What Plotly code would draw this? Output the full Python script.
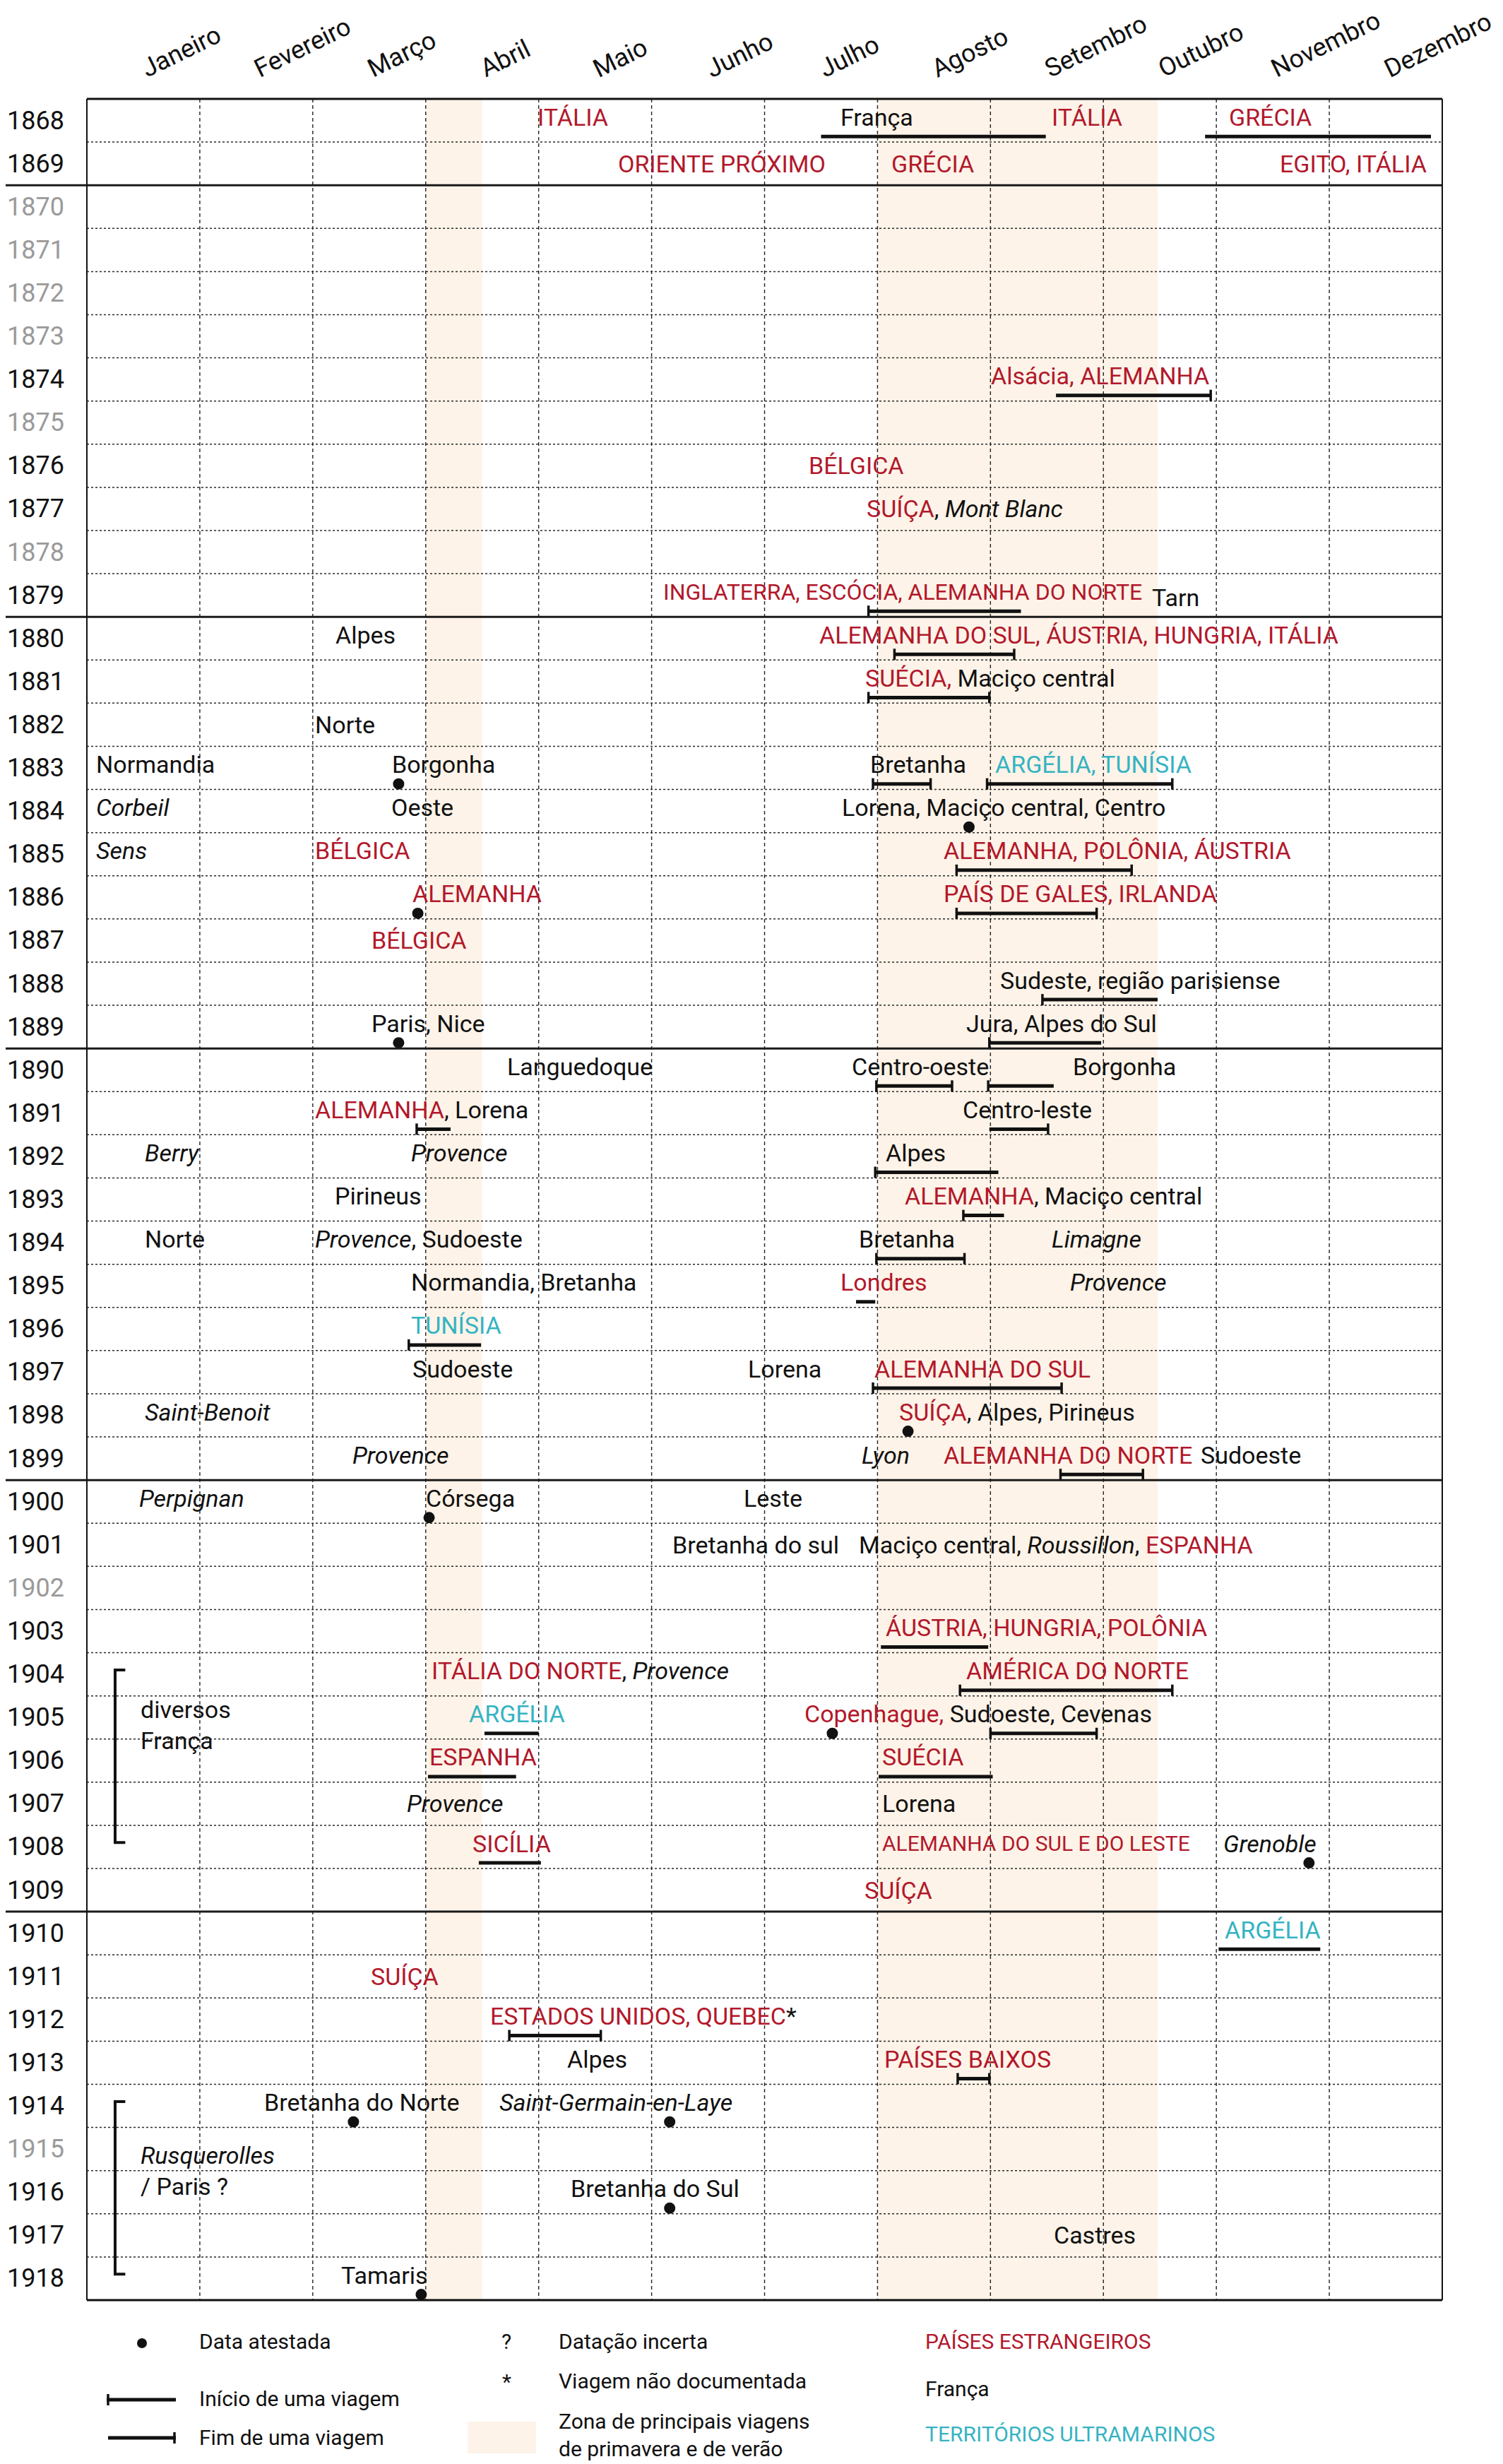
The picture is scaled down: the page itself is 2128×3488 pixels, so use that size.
import re
import plotly.graph_objects as go

# ---------------- data ----------------
years = list(range(1868, 1919))
grey_years = [1870, 1871, 1872, 1873, 1875, 1878, 1902, 1915]
decade_breaks = [1869, 1879, 1889, 1899, 1909]
months = ["Janeiro", "Fevereiro", "Março", "Abril", "Maio", "Junho", "Julho",
          "Agosto", "Setembro", "Outubro", "Novembro", "Dezembro"]

# spring/summer travel zones (in months from 1 January)
band_start = [3.0, 7.0]
band_end = [3.5, 9.48]

# labels: year, position (months from 1 January), text
# {E:..} foreign country, {T:..} overseas territory, {i:..} italic
label_year = [1868, 1868, 1868, 1868,
              1869, 1869, 1869,
              1874, 1876, 1877,
              1879, 1879,
              1880, 1880, 1881, 1882,
              1883, 1883, 1883, 1883,
              1884, 1884, 1884,
              1885, 1885, 1885,
              1886, 1886, 1887, 1888,
              1889, 1889,
              1890, 1890, 1890,
              1891, 1891,
              1892, 1892, 1892,
              1893, 1893,
              1894, 1894, 1894, 1894,
              1895, 1895, 1895,
              1896,
              1897, 1897, 1897,
              1898, 1898,
              1899, 1899, 1899, 1899,
              1900, 1900, 1900,
              1901, 1901,
              1903,
              1904, 1904,
              1905, 1905,
              1906, 1906,
              1907, 1907,
              1908, 1908, 1908,
              1909, 1910, 1911, 1912,
              1913, 1913,
              1914, 1914,
              1916, 1917, 1918]
label_month = [3.98, 6.66, 8.53, 10.10,
               4.69, 7.11, 10.55,
               7.99, 6.38, 6.89,
               5.09, 9.42,
               2.19, 6.47, 6.88, 2.01,
               0.07, 2.69, 6.92, 8.03,
               0.07, 2.68, 6.67,
               0.07, 2.01, 7.57,
               2.87, 7.57, 2.51, 8.07,
               2.51, 7.77,
               3.71, 6.76, 8.72,
               2.01, 7.74,
               0.50, 2.86, 7.06,
               2.18, 7.23,
               0.50, 2.01, 6.82, 8.53,
               2.86, 6.66, 8.69,
               2.86,
               2.87, 5.84, 6.96,
               0.50, 7.18,
               2.34, 6.85, 7.57, 9.85,
               0.45, 2.99, 5.80,
               5.17, 6.82,
               7.06,
               3.04, 7.77,
               3.37, 6.34,
               3.02, 7.03,
               2.82, 7.03,
               3.40, 7.03, 10.05,
               6.87, 10.06, 2.50, 3.56,
               4.24, 7.05,
               1.56, 3.64,
               4.27, 8.55, 2.24]
label_text = ["{E:ITÁLIA}", "França", "{E:ITÁLIA}", "{E:GRÉCIA}",
              "{E:ORIENTE PRÓXIMO}", "{E:GRÉCIA}", "{E:EGITO, ITÁLIA}",
              "{E:Alsácia, ALEMANHA}", "{E:BÉLGICA}", "{E:SUÍÇA}, {i:Mont Blanc}",
              "{E:INGLATERRA, ESCÓCIA, ALEMANHA DO NORTE}", "Tarn",
              "Alpes", "{E:ALEMANHA DO SUL, ÁUSTRIA, HUNGRIA, ITÁLIA}",
              "{E:SUÉCIA,} Maciço central", "Norte",
              "Normandia", "Borgonha", "Bretanha", "{T:ARGÉLIA, TUNÍSIA}",
              "{i:Corbeil}", "Oeste", "Lorena, Maciço central, Centro",
              "{i:Sens}", "{E:BÉLGICA}", "{E:ALEMANHA, POLÔNIA, ÁUSTRIA}",
              "{E:ALEMANHA}", "{E:PAÍS DE GALES, IRLANDA}", "{E:BÉLGICA}",
              "Sudeste, região parisiense",
              "Paris, Nice", "Jura, Alpes do Sul",
              "Languedoque", "Centro-oeste", "Borgonha",
              "{E:ALEMANHA}, Lorena", "Centro-leste",
              "{i:Berry}", "{i:Provence}", "Alpes",
              "Pirineus", "{E:ALEMANHA}, Maciço central",
              "Norte", "{i:Provence}, Sudoeste", "Bretanha", "{i:Limagne}",
              "Normandia, Bretanha", "{E:Londres}", "{i:Provence}",
              "{T:TUNÍSIA}",
              "Sudoeste", "Lorena", "{E:ALEMANHA DO SUL}",
              "{i:Saint-Benoit}", "{E:SUÍÇA}, Alpes, Pirineus",
              "{i:Provence}", "{i:Lyon}", "{E:ALEMANHA DO NORTE}", "Sudoeste",
              "{i:Perpignan}", "Córsega", "Leste",
              "Bretanha do sul", "Maciço central, {i:Roussillon}, {E:ESPANHA}",
              "{E:ÁUSTRIA, HUNGRIA, POLÔNIA}",
              "{E:ITÁLIA DO NORTE}, {i:Provence}", "{E:AMÉRICA DO NORTE}",
              "{T:ARGÉLIA}", "{E:Copenhague,} Sudoeste, Cevenas",
              "{E:ESPANHA}", "{E:SUÉCIA}",
              "{i:Provence}", "Lorena",
              "{E:SICÍLIA}", "{E:ALEMANHA DO SUL E DO LESTE}", "{i:Grenoble}",
              "{E:SUÍÇA}", "{T:ARGÉLIA}", "{E:SUÍÇA}", "{E:ESTADOS UNIDOS, QUEBEC}*",
              "Alpes", "{E:PAÍSES BAIXOS}",
              "Bretanha do Norte", "{i:Saint-Germain-en-Laye}",
              "Bretanha do Sul", "Castres", "Tamaris"]
# labels printed narrower in the original
narrow_labels = {"{E:ALEMANHA DO SUL E DO LESTE}": 30,
                 "{E:INGLATERRA, ESCÓCIA, ALEMANHA DO NORTE}": 32}
# labels sitting a little lower in their row
low_labels = ["Tarn"]

# journeys: year, start, end (months), marks: s = start of trip, e = end of trip
trip_year = [1868, 1868, 1874, 1879, 1880, 1881, 1883, 1883, 1885, 1886, 1888,
             1889, 1890, 1890, 1891, 1891, 1892, 1893, 1894, 1895, 1896, 1897,
             1899, 1903, 1904, 1905, 1905, 1906, 1906, 1908, 1910, 1912, 1913]
trip_start = [6.50, 9.90, 8.58, 6.92, 7.15, 6.92, 6.96, 7.97, 7.70, 7.70, 8.46,
              7.99, 6.99, 7.98, 2.92, 7.99, 6.98, 7.76, 6.99, 6.81, 2.85, 6.96,
              8.62, 7.03, 7.73, 3.52, 8.00, 3.02, 7.01, 3.47, 10.02, 3.74, 7.71]
trip_end = [8.49, 11.90, 9.95, 8.27, 8.21, 7.99, 7.47, 9.61, 9.25, 8.94, 9.48,
            8.98, 7.66, 8.56, 3.22, 8.51, 8.07, 8.12, 7.77, 6.98, 3.49, 8.63,
            9.35, 7.98, 9.61, 4.00, 8.94, 3.80, 8.02, 4.02, 10.92, 4.55, 7.99]
trip_marks = ["", "", "e", "s", "se", "se", "se", "se", "se", "se", "s",
              "s", "se", "s", "s", "e", "s", "s", "se", "", "s", "se",
              "se", "", "se", "", "se", "", "", "", "", "se", "se"]

# attested dates
dot_year = [1883, 1884, 1886, 1889, 1898, 1900, 1905, 1908, 1914, 1914, 1916, 1918]
dot_month = [2.76, 7.81, 2.93, 2.76, 7.27, 3.03, 6.60, 10.82, 2.36, 5.16, 5.16, 2.96]

# periods spent in France (bracket)
bracket_start = [1904, 1914]
bracket_end = [1908, 1918]
bracket_text = ["diversos<br>França", "{i:Rusquerolles}<br>/ Paris ?"]
bracket_text_year = [1905.17, 1915.5]

legend_symbols = ["Data atestada", "Início de uma viagem", "Fim de uma viagem"]
legend_notes = ["Datação incerta", "Viagem não documentada",
                "Zona de principais viagens<br>de primavera e de verão"]
legend_kinds = ["{E:PAÍSES ESTRANGEIROS}", "França", "{T:TERRITÓRIOS ULTRAMARINOS}"]

# ---------------- style ----------------
BODY = 8                       # default page margin around the plot div
W, H = 2128 - BODY, 3488 - BODY
ML, MR, MT, MB = 115, 86, 132, 232
PW = W - ML - MR
PH = H - MT - MB
ROW = PH / len(years)
RED = "#b2182b"
TEAL = "#35b3c2"
GREY = "#9a9a9a"
BAND = "#fdf3e8"
FONT = "Roboto, 'Liberation Sans', sans-serif"
Y0, Y1 = years[0] - 0.5, years[-1] + 0.5
BAR_DY = 0.37
TICK_H = 8 / ROW


def markup(s):
    s = re.sub(r"\{E:([^}]*)\}", r'<span style="color:%s">\1</span>' % RED, s)
    s = re.sub(r"\{T:([^}]*)\}", r'<span style="color:%s">\1</span>' % TEAL, s)
    s = re.sub(r"\{i:([^}]*)\}", r"<i>\1</i>", s)
    return s


def pxx(p):   # page pixel -> paper x
    return (p - BODY - ML) / PW


def pxy(p):   # page pixel -> paper y
    return (BODY + MT + PH - p) / PH


fig = go.Figure()
shapes = []
ann = []

# bands
for a, b in zip(band_start, band_end):
    shapes.append(dict(type="rect", xref="x", yref="y", x0=a, x1=b, y0=Y0, y1=Y1,
                       fillcolor=BAND, line_width=0, layer="below"))
# vertical grid
for i in range(1, 12):
    shapes.append(dict(type="line", xref="x", yref="y", x0=i, x1=i, y0=Y0, y1=Y1,
                       line=dict(color="#222", width=1.4, dash="5px,4px"), layer="below"))
# horizontal grid
for y in years[:-1]:
    if y in decade_breaks:
        continue
    shapes.append(dict(type="line", xref="x", yref="y", x0=0, x1=12, y0=y + 0.5, y1=y + 0.5,
                       line=dict(color="#2a2a2a", width=1.5, dash="3px,3px"), layer="below"))
# decade separators
for y in decade_breaks:
    shapes.append(dict(type="line", xref="paper", yref="y", x0=pxx(BODY), x1=1, y0=y + 0.5, y1=y + 0.5,
                       line=dict(color="#1a1a1a", width=3)))
# frame
shapes.append(dict(type="line", xref="paper", yref="paper", x0=0, x1=1, y0=1, y1=1,
                   line=dict(color="#111", width=3)))
shapes.append(dict(type="line", xref="paper", yref="paper", x0=0, x1=1, y0=0, y1=0,
                   line=dict(color="#111", width=3)))
shapes.append(dict(type="line", xref="paper", yref="paper", x0=0, x1=0, y0=0, y1=1,
                   line=dict(color="#111", width=2)))
shapes.append(dict(type="line", xref="paper", yref="paper", x0=1, x1=1, y0=0, y1=1,
                   line=dict(color="#111", width=2)))

# trips
bx, by, tx, ty = [], [], [], []
for yr, a, b, m in zip(trip_year, trip_start, trip_end, trip_marks):
    yy = yr + BAR_DY
    bx += [a, b, None]
    by += [yy, yy, None]
    if "s" in m:
        tx += [a, a, None]
        ty += [yy - TICK_H, yy + TICK_H, None]
    if "e" in m:
        tx += [b, b, None]
        ty += [yy - TICK_H, yy + TICK_H, None]
fig.add_trace(go.Scatter(x=bx, y=by, mode="lines", line=dict(color="#111", width=5),
                         hoverinfo="skip", showlegend=False))
fig.add_trace(go.Scatter(x=tx, y=ty, mode="lines", line=dict(color="#111", width=3.5),
                         hoverinfo="skip", showlegend=False))
# dots
fig.add_trace(go.Scatter(x=dot_month, y=[y + BAR_DY for y in dot_year], mode="markers",
                         marker=dict(color="#111", size=16), hoverinfo="skip", showlegend=False))
# brackets
kx, ky = [], []
for a, b in zip(bracket_start, bracket_end):
    kx += [0.34, 0.25, 0.25, 0.34, None]
    ky += [a - 0.1, a - 0.1, b - 0.1, b - 0.1, None]
fig.add_trace(go.Scatter(x=kx, y=ky, mode="lines", line=dict(color="#111", width=4),
                         hoverinfo="skip", showlegend=False))
for t, yv in zip(bracket_text, bracket_text_year):
    ann.append(dict(x=0.46, y=yv, xref="x", yref="y", text=markup(t), showarrow=False,
                    xanchor="left", yanchor="middle", align="left",
                    font=dict(size=34, color="#111", family=FONT)))

# labels
rows_with_marks = set(trip_year) | set(dot_year)
for yr, m, t in zip(label_year, label_month, label_text):
    dy = -0.08 if yr in rows_with_marks else 0.0
    if t in low_labels:
        dy = 0.06
    size = narrow_labels.get(t, 34)
    ann.append(dict(x=m, y=yr + dy, xref="x", yref="y", text=markup(t), showarrow=False,
                    xanchor="left", yanchor="middle", font=dict(size=size, color="#111", family=FONT)))

# year labels
for yr in years:
    ann.append(dict(x=pxx(BODY), y=yr, xref="paper", yref="y", text=str(yr), showarrow=False,
                    xanchor="left", yanchor="middle",
                    font=dict(size=36, color=GREY if yr in grey_years else "#111", family=FONT)))

# month header
for i, mname in enumerate(months):
    ann.append(dict(x=i + 0.5, y=pxy(121), xref="x", yref="paper", text=mname, showarrow=False,
                    xanchor="left", yanchor="bottom", textangle=-26, xshift=-12,
                    font=dict(size=36, color="#111", family=FONT)))

# legend
shapes.append(dict(type="circle", xref="paper", yref="paper", x0=pxx(194), x1=pxx(208),
                   y0=pxy(3324), y1=pxy(3310), fillcolor="#111", line_width=0))
shapes.append(dict(type="line", xref="paper", yref="paper", x0=pxx(151), x1=pxx(249),
                   y0=pxy(3397), y1=pxy(3397), line=dict(color="#111", width=5)))
shapes.append(dict(type="line", xref="paper", yref="paper", x0=pxx(153), x1=pxx(153),
                   y0=pxy(3389), y1=pxy(3405), line=dict(color="#111", width=3.5)))
shapes.append(dict(type="line", xref="paper", yref="paper", x0=pxx(153), x1=pxx(249),
                   y0=pxy(3451), y1=pxy(3451), line=dict(color="#111", width=5)))
shapes.append(dict(type="line", xref="paper", yref="paper", x0=pxx(247), x1=pxx(247),
                   y0=pxy(3443), y1=pxy(3459), line=dict(color="#111", width=3.5)))
shapes.append(dict(type="rect", xref="paper", yref="paper", x0=pxx(662), x1=pxx(759),
                   y0=pxy(3473), y1=pxy(3428), fillcolor=BAND, line_width=0))
for t, yp in zip(legend_symbols, [3315, 3395, 3450]):
    ann.append(dict(x=pxx(280), y=pxy(yp), xref="paper", yref="paper", text=t, showarrow=False,
                    xanchor="left", yanchor="middle", font=dict(size=30, color="#111", family=FONT)))
for sym, yp in zip(["?", "*"], [3314, 3372]):
    ann.append(dict(x=pxx(717), y=pxy(yp), xref="paper", yref="paper", text=sym, showarrow=False,
                    xanchor="center", yanchor="middle", font=dict(size=30, color="#111", family=FONT)))
for t, yp in zip(legend_notes, [3314, 3370, 3447]):
    ann.append(dict(x=pxx(789), y=pxy(yp), xref="paper", yref="paper", text=t, showarrow=False,
                    xanchor="left", yanchor="middle", align="left",
                    font=dict(size=30, color="#111", family=FONT)))
for t, yp in zip(legend_kinds, [3315, 3381, 3445]):
    ann.append(dict(x=pxx(1308), y=pxy(yp), xref="paper", yref="paper", text=markup(t),
                    showarrow=False, xanchor="left", yanchor="middle",
                    font=dict(size=30, color="#111", family=FONT)))

fig.update_layout(
    width=W, height=H,
    margin=dict(l=ML, r=MR, t=MT, b=MB, pad=0),
    paper_bgcolor="white", plot_bgcolor="white",
    xaxis=dict(range=[0, 12], visible=False, fixedrange=True),
    yaxis=dict(range=[Y1, Y0], visible=False, fixedrange=True),
    shapes=shapes, annotations=ann,
    font=dict(family=FONT),
    showlegend=False,
)
fig.write_html("out.html")
